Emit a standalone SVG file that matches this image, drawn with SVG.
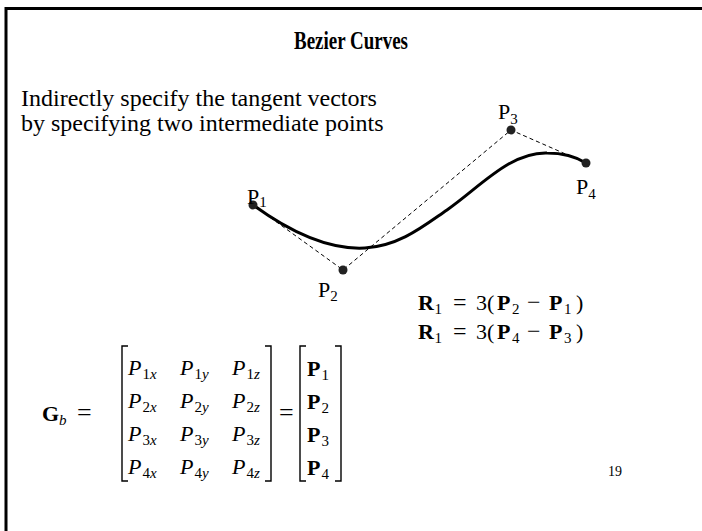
<svg xmlns="http://www.w3.org/2000/svg" width="702" height="531" viewBox="0 0 702 531">
<style>
.t{font-family:"Liberation Serif","Times New Roman",serif;fill:#000}
.b{font-weight:bold}
.i{font-style:italic}
.dash{fill:none;stroke:#000;stroke-width:1;stroke-dasharray:4,3}
.br{fill:none;stroke:#000;stroke-width:1.4}
</style>
<rect width="702" height="531" fill="#fff"/>
<path d="M6,531 V8.5 H702" fill="none" stroke="#000" stroke-width="3"/>
<g id="title"><text class="t b" x="351" y="49" font-size="26" text-anchor="middle" textLength="114" lengthAdjust="spacingAndGlyphs">Bezier Curves</text></g>
<g id="intro">
<text class="t" x="21" y="106" font-size="24">Indirectly specify the tangent vectors</text>
<text class="t" x="21" y="131" font-size="24">by specifying two intermediate points</text>
</g>
<g id="connectors">
<path class="dash" d="M253,205 L343,270 L511,130 L586,163"/>
<path d="M253,205 C290,232 330,250 365,248 C400,246 425,225 447,210 C480,187 510,152 547,153 C565,153 578,158 586,163" fill="none" stroke="#000" stroke-width="3"/>
</g>
<g id="p1"><circle cx="253" cy="205" r="4.5" fill="#222"/><text class="t" x="247" y="204" font-size="22">P<tspan font-size="15" dy="3">1</tspan></text></g>
<g id="p2"><circle cx="343" cy="270" r="4.5" fill="#222"/><text class="t" x="318" y="297" font-size="22">P<tspan font-size="15" dy="4">2</tspan></text></g>
<g id="p3"><circle cx="511" cy="130" r="4.5" fill="#222"/><text class="t" x="498" y="119" font-size="22">P<tspan font-size="15" dy="5">3</tspan></text></g>
<g id="p4"><circle cx="586" cy="163" r="4.5" fill="#222"/><text class="t" x="576" y="194" font-size="22">P<tspan font-size="15" dy="5">4</tspan></text></g>
<g id="eq1">
<text class="t b" x="418" y="310" font-size="22">R</text><text class="t" x="434.5" y="314" font-size="15">1</text>
<text class="t" x="453" y="310" font-size="24">=</text><text class="t" x="476" y="310" font-size="22">3(</text>
<text class="t b" x="497" y="310" font-size="22">P</text><text class="t" x="512" y="314" font-size="15">2</text>
<text class="t" x="527" y="310" font-size="24">−</text>
<text class="t b" x="549" y="310" font-size="22">P</text><text class="t" x="564" y="314" font-size="15">1</text>
<text class="t" x="576" y="310" font-size="22">)</text>
</g>
<g id="eq2">
<text class="t b" x="418" y="339" font-size="22">R</text><text class="t" x="434.5" y="343" font-size="15">1</text>
<text class="t" x="453" y="339" font-size="24">=</text><text class="t" x="476" y="339" font-size="22">3(</text>
<text class="t b" x="497" y="339" font-size="22">P</text><text class="t" x="512" y="343" font-size="15">4</text>
<text class="t" x="527" y="339" font-size="24">−</text>
<text class="t b" x="549" y="339" font-size="22">P</text><text class="t" x="564" y="343" font-size="15">3</text>
<text class="t" x="576" y="339" font-size="22">)</text>
</g>
<g id="gb">
<text class="t b" x="42" y="421" font-size="22">G</text><text class="t i" x="59" y="425" font-size="15">b</text>
<text class="t" x="77" y="421" font-size="26">=</text>
</g>
<g id="matrix-points">
<path class="br" d="M128,346 H122 V481 H128"/>
<path class="br" d="M265,346 H271 V481 H265"/>
<g class="t" font-size="22">
<text x="128" y="375"><tspan class="i">P</tspan><tspan font-size="15" dy="4" dx="1">1<tspan class="i">x</tspan></tspan></text>
<text x="180" y="375"><tspan class="i">P</tspan><tspan font-size="15" dy="4" dx="1">1<tspan class="i">y</tspan></tspan></text>
<text x="232" y="375"><tspan class="i">P</tspan><tspan font-size="15" dy="4" dx="1">1<tspan class="i">z</tspan></tspan></text>
<text x="128" y="408"><tspan class="i">P</tspan><tspan font-size="15" dy="4" dx="1">2<tspan class="i">x</tspan></tspan></text>
<text x="180" y="408"><tspan class="i">P</tspan><tspan font-size="15" dy="4" dx="1">2<tspan class="i">y</tspan></tspan></text>
<text x="232" y="408"><tspan class="i">P</tspan><tspan font-size="15" dy="4" dx="1">2<tspan class="i">z</tspan></tspan></text>
<text x="128" y="441"><tspan class="i">P</tspan><tspan font-size="15" dy="4" dx="1">3<tspan class="i">x</tspan></tspan></text>
<text x="180" y="441"><tspan class="i">P</tspan><tspan font-size="15" dy="4" dx="1">3<tspan class="i">y</tspan></tspan></text>
<text x="232" y="441"><tspan class="i">P</tspan><tspan font-size="15" dy="4" dx="1">3<tspan class="i">z</tspan></tspan></text>
<text x="128" y="474"><tspan class="i">P</tspan><tspan font-size="15" dy="4" dx="1">4<tspan class="i">x</tspan></tspan></text>
<text x="180" y="474"><tspan class="i">P</tspan><tspan font-size="15" dy="4" dx="1">4<tspan class="i">y</tspan></tspan></text>
<text x="232" y="474"><tspan class="i">P</tspan><tspan font-size="15" dy="4" dx="1">4<tspan class="i">z</tspan></tspan></text>
</g>
</g>
<g id="eq-mid"><text class="t" x="279" y="421" font-size="26">=</text></g>
<g id="matrix-vectors">
<path class="br" d="M306,346 H300 V481 H306"/>
<path class="br" d="M335,346 H341 V481 H335"/>
<g class="t" font-size="22">
<text x="307" y="376"><tspan class="b">P</tspan><tspan font-size="15" dy="4" dx="1">1</tspan></text>
<text x="307" y="409"><tspan class="b">P</tspan><tspan font-size="15" dy="4" dx="1">2</tspan></text>
<text x="307" y="442"><tspan class="b">P</tspan><tspan font-size="15" dy="4" dx="1">3</tspan></text>
<text x="307" y="475"><tspan class="b">P</tspan><tspan font-size="15" dy="4" dx="1">4</tspan></text>
</g>
</g>
<g id="page"><text class="t" x="608" y="476" font-size="14">19</text></g>
</svg>
